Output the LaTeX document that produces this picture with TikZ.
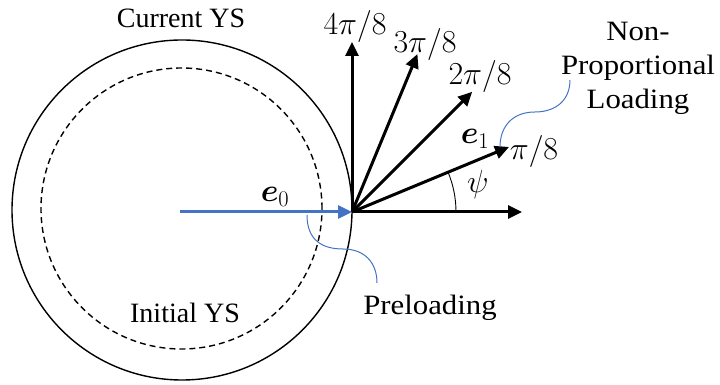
\RequirePackage{fix-cm}
\documentclass[tikz,border=0pt]{standalone}
\usepackage{amsmath}
\usepackage{bm}
\usepackage{fontspec}
\setmainfont{Liberation Serif}
\newfontfamily\widefont{Liberation Serif}[FakeStretch=1.1]
\usetikzlibrary{arrows.meta,calc}
\definecolor{myblue}{RGB}{68,114,196}
\begin{document}
\begin{tikzpicture}[x=1pt,y=1pt,
  vec/.style={line width=3pt,-{Triangle[length=14pt,width=13pt]}},
  lbl/.style={font=\fontsize{28}{32}\selectfont,inner sep=0pt,anchor=base},
  wlbl/.style={font=\widefont\fontsize{28}{34}\selectfont,inner sep=0pt},
  mlbl/.style={font=\fontsize{32}{36}\selectfont,inner sep=0pt,anchor=base},
  callout/.style={myblue,line width=1pt},
  ys/.style={line width=1.4pt}]
\useasboundingbox (0,0) rectangle (720,385);
% yield surfaces
\coordinate (C) at (182,175);
\coordinate (Ci) at (181.5,176.5);
\draw[ys] (C) circle (170pt);
\draw[ys,dash pattern=on 6pt off 4pt] (Ci) circle (140.5pt);
% origin and tips
\coordinate (O) at (352,173);
\coordinate (s0) at (180,173);
\coordinate (t0) at ($(O)+(0:170)$);
\coordinate (t1) at ($(O)+(22.5:170)$);
\coordinate (t2) at ($(O)+(45:170)$);
\coordinate (t3) at ($(O)+(67.5:171)$);
\coordinate (t4) at ($(O)+(90:170)$);
\draw[vec] (O) -- (t0);
\draw[vec] (O) -- (t1);
\draw[vec] (O) -- (t2);
\draw[vec] (O) -- (t3);
\draw[vec] (O) -- (t4);
\draw[vec,myblue] (s0) -- (O);
% angle arc
\draw[line width=0.9pt] ($(O)+(104,0)$) arc[start angle=0,end angle=22.5,radius=104pt];
% labels
\node[mlbl] (l4) at (355,350) {$4\pi/8$};
\node[mlbl] (l3) at (425,332) {$3\pi/8$};
\node[mlbl] (l2) at (480,300) {$2\pi/8$};
\node[mlbl] (l1) at (534,225) {$\pi/8$};
\node[mlbl] (e1) at (475,241) {$\bm{e}_1$};
\node[mlbl] (psi) at (478,192) {$\psi$};
\node[mlbl] (e0) at (275,183) {$\bm{e}_0$};
\node[lbl] (cur) at (181,357) {Current YS};
\node[lbl] (ini) at (185,62) {Initial YS};
\node[wlbl,anchor=base] (pre) at (430,70) {Preloading};
\node[wlbl,align=center] (np) at (638,317) {Non-\\Proportional\\Loading};
% callouts
\coordinate (p0) at (307,170);
\coordinate (p1) at (377,102);
\draw[callout] (p0) .. controls (307,145) and (322,136) .. (343,136)
  .. controls (365,136) and (377,122) .. (p1);
\coordinate (n0) at (570,305);
\coordinate (n1) at (500,238);
\draw[callout] (n0) .. controls (570,285) and (556,273) .. (535,273)
  .. controls (512,273) and (500,258) .. (n1);
\end{tikzpicture}
\end{document}
